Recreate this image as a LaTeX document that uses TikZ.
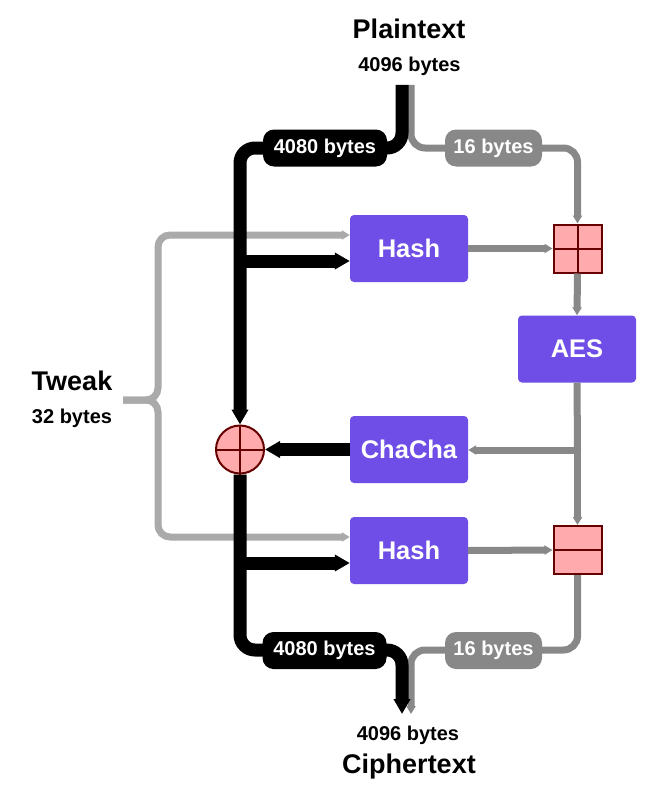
\documentclass[tikz,border=0pt]{standalone}
\usepackage{fontspec}
\setmainfont{Liberation Sans}
\usetikzlibrary{arrows.meta}
\definecolor{purp}{RGB}{110,78,230}
\definecolor{gry}{RGB}{136,136,136}
\definecolor{lgry}{RGB}{170,170,170}
\definecolor{pnk}{RGB}{255,170,172}
\definecolor{dred}{RGB}{102,0,0}
\newcommand\ftitle{\fontsize{27}{30}\selectfont\bfseries}
\newcommand\fsub{\fontsize{20}{23}\selectfont\bfseries}
\newcommand\fopbox{\fontsize{25.5}{28}\selectfont\bfseries}
\begin{document}
\begin{tikzpicture}[x=1pt,y=-1pt,
  blk/.style={line width=13pt, draw=black},
  gryl/.style={line width=7pt, draw=gry},
  lgryl/.style={line width=7pt, draw=lgry},
  btip/.style={-{Triangle[length=15pt,width=16pt]}},
  gtip/.style={-{Triangle[length=8pt,width=9pt]}},
  opbox/.style={fill=purp, rounded corners=4pt, minimum width=118pt, minimum height=67pt, text=white, font=\fopbox, inner sep=0pt},
  pill/.style={rounded corners=11pt, text=white, font=\fsub, minimum height=37pt, inner sep=0pt},
  addbox/.style={fill=pnk, draw=dred, line width=2pt, minimum width=48pt, minimum height=48pt, inner sep=0pt},
  xorc/.style={circle, fill=pnk, draw=dred, line width=2pt, minimum size=48pt, inner sep=0pt},
  lbl/.style={font=\fsub, anchor=base, inner sep=0pt},
  ttl/.style={font=\ftitle, anchor=base, inner sep=0pt}
]
\useasboundingbox (0,0) rectangle (647,797);
\fill[white] (0,0) rectangle (647,797);

% texts
\node[ttl] (plain) at (409,39) {Plaintext};
\node[lbl] (pbytes) at (409.5,72) {4096 bytes};
\node[lbl] (cbytes) at (408,740) {4096 bytes};
\node[ttl] (cipher) at (409,773) {Ciphertext};
\node[ttl] (tweak) at (72,390) {Tweak};
\node[lbl] (tbytes) at (72,423) {32 bytes};

% boxes
\node[opbox] (hash1) at (409,248.5) {Hash};
\node[opbox] (aes) at (577,349) {AES};
\node[opbox] (chacha) at (409,449.5) {ChaCha};
\node[opbox] (hash2) at (409,550.5) {Hash};
\node[addbox] (add1) at (577.5,248.5) {};
\node[addbox] (add2) at (577.5,550) {};
\node[xorc] (xor) at (240,449.5) {};
\draw[dred, line width=2pt] (add1.north) -- (add1.south) (add1.west) -- (add1.east);
\draw[dred, line width=2pt] (add2.west) -- (add2.east);
\draw[dred, line width=2pt] (xor.north) -- (xor.south) (xor.west) -- (xor.east);

% coordinates
\coordinate (pb) at (402,85);
\coordinate (pg) at (411,85);
\coordinate (cb) at (402,714);
\coordinate (cg) at (411,714);
\coordinate (top) at (0,148);
\coordinate (bot) at (0,650);
\coordinate (tw) at (123,400);
\coordinate (bm) at (158,400);
\coordinate (bt) at (158,235);
\coordinate (bb) at (158,537);
\coordinate (j1) at (240,261);
\coordinate (j2) at (240,563);
\coordinate (aj) at (577.5,450);

% tweak brace
\draw[lgryl, rounded corners=12pt, gtip] (tw) -- (bm) -- (bt) -- (bt -| hash1.west);
\draw[lgryl, rounded corners=12pt, gtip] (tw) -- (bm) -- (bb) -- (bb -| hash2.west);

% gray paths
\draw[gryl, rounded corners=14pt, gtip] (pg) |- (top -| add1.north) -- (add1.north);
\draw[gryl, gtip] (hash1.east) -- (add1.west);
\draw[gryl, gtip] (add1.south) -- (aes.north);
\draw[gryl] (aes.south) -- (aj);
\draw[gryl, gtip] (aj) -- (add2.north);
\draw[gryl, gtip] (aj) -- (aj -| chacha.east);
\draw[gryl, gtip] (hash2.east) -- (add2.west);
\draw[gryl, rounded corners=14pt, gtip] (add2.south) |- (bot -| cg) -- (cg);

% black paths
\draw[blk, rounded corners=15pt, btip] (pb) |- (top -| xor.north) -- (xor.north);
\draw[blk, btip] (j1) -- (j1 -| hash1.west);
\draw[blk, btip] (chacha.west) -- (xor.east);
\draw[blk, rounded corners=15pt, btip] (xor.south) |- (bot -| cb) -- (cb);
\draw[blk, btip] (j2) -- (j2 -| hash2.west);
\draw[dred, line width=2pt] (xor.north) -- (xor.south);

% pills
\node[pill, fill=black, minimum width=124pt] (p1) at (325,148) {4080 bytes};
\node[pill, fill=gry, minimum width=97pt] (p2) at (493.5,148) {16 bytes};
\node[pill, fill=black, minimum width=124pt] (p3) at (324.5,650.5) {4080 bytes};
\node[pill, fill=gry, minimum width=97pt] (p4) at (493.5,650.5) {16 bytes};
\end{tikzpicture}
\end{document}
